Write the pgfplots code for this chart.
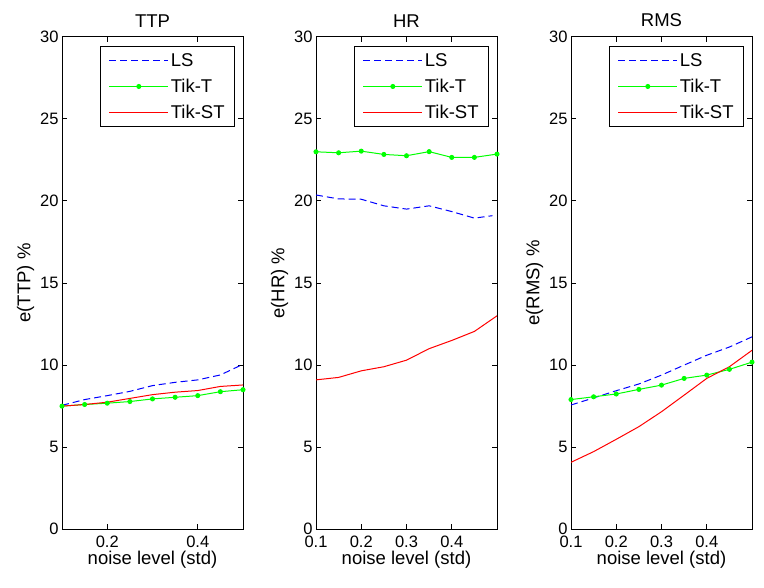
\documentclass[border=0pt]{standalone}
\usepackage{fontspec}
\setmainfont{Liberation Sans}
\usepackage{pgfplots}
\pgfplotsset{compat=1.18}
\definecolor{mblue}{RGB}{0,0,255}
\definecolor{mgreen}{RGB}{0,255,0}
\definecolor{mred}{RGB}{255,0,0}
\newcommand{\tfont}{\fontsize{16.5}{19}\selectfont}
\newcommand{\lfont}{\fontsize{18.5}{21}\selectfont}
\pgfplotsset{
 panel/.style={
  scale only axis, width=181pt, height=492.6pt,
  xmin=0.1, xmax=0.5, ymin=0, ymax=30, ytick={0,5,...,30},
  tick align=inside, tick pos=both, major tick length=5pt,
  axis line style={line width=0.8pt},
  every tick/.style={black, line width=0.8pt},
  font=\lfont,
  tick label style={font=\tfont},
  label style={font=\lfont},
  title style={font=\lfont, yshift=0pt},
  /pgf/number format/assume math mode=true,
  xticklabel style={yshift=-3pt, /pgf/number format/.cd, fixed, precision=1, fixed zerofill},
  xlabel={noise level (std)},
  xlabel style={yshift=3pt},
  ylabel style={yshift=-1pt},
  legend cell align=left,
  legend style={at={(1,1)}, anchor=north east, xshift=-8pt, yshift=-9.5pt,
    draw=black, line width=0.8pt, font=\lfont,
    row sep=7pt, inner xsep=8pt, inner ysep=5pt},
  legend image code/.code={\draw[mark repeat=2,mark phase=2,#1] plot coordinates {(0pt,0pt) (29.5pt,0pt) (59pt,0pt)};},
 },
 ls/.style={draw=mblue, color=mblue, line width=1pt, dash pattern=on 7pt off 4pt, no marks},
 tikt/.style={draw=mgreen, color=mgreen, line width=1pt, mark=*, mark size=2pt, mark options={solid, fill=mgreen}},
 tikst/.style={draw=mred, color=mred, line width=1pt, no marks},
}
\begin{document}
\begin{tikzpicture}
\useasboundingbox (-62pt,-58.7pt) rectangle (702pt,529.3pt);
\begin{axis}[panel, at={(0pt,0pt)}, title={TTP}, ylabel={e(TTP) \%}, xtick={0.2,0.4}]
\addplot[ls] coordinates {(0.1,7.55) (0.15,7.9) (0.2,8.14) (0.25,8.4) (0.3,8.75) (0.35,8.95) (0.4,9.1) (0.45,9.4) (0.5,10.05)};
\addplot[tikt] coordinates {(0.1,7.5) (0.15,7.6) (0.2,7.68) (0.25,7.78) (0.3,7.94) (0.35,8.04) (0.4,8.14) (0.45,8.38) (0.5,8.5)};
\addplot[tikst] coordinates {(0.1,7.5) (0.15,7.6) (0.2,7.74) (0.25,7.97) (0.3,8.2) (0.35,8.35) (0.4,8.45) (0.45,8.7) (0.5,8.79)};
\legend{LS, Tik-T, Tik-ST}
\end{axis}
\begin{axis}[panel, at={(254pt,0pt)}, title={HR}, ylabel={e(HR) \%}, xtick={0.1,0.2,0.3,0.4}]
\addplot[ls] coordinates {(0.1,20.36) (0.15,20.12) (0.2,20.1) (0.25,19.7) (0.3,19.5) (0.35,19.7) (0.4,19.35) (0.45,18.95) (0.49,19.1)};
\addplot[tikt] coordinates {(0.1,22.99) (0.15,22.93) (0.2,23.03) (0.25,22.83) (0.3,22.75) (0.35,23.0) (0.4,22.65) (0.45,22.65) (0.5,22.85)};
\addplot[tikst] coordinates {(0.1,9.1) (0.15,9.25) (0.2,9.65) (0.25,9.9) (0.3,10.3) (0.35,11.0) (0.4,11.5) (0.45,12.05) (0.5,13.0)};
\legend{LS, Tik-T, Tik-ST}
\end{axis}
\begin{axis}[panel, at={(509pt,0pt)}, title={RMS}, ylabel={e(RMS) \%}, xtick={0.1,0.2,0.3,0.4}]
\addplot[ls] coordinates {(0.1,7.57) (0.15,8.0) (0.2,8.44) (0.25,8.85) (0.3,9.39) (0.35,10.0) (0.4,10.6) (0.45,11.1) (0.5,11.72)};
\addplot[tikt] coordinates {(0.1,7.9) (0.15,8.07) (0.2,8.24) (0.25,8.52) (0.3,8.78) (0.35,9.19) (0.4,9.39) (0.45,9.74) (0.5,10.18)};
\addplot[tikst] coordinates {(0.1,4.08) (0.15,4.73) (0.2,5.48) (0.25,6.25) (0.3,7.16) (0.35,8.17) (0.4,9.19) (0.45,9.9) (0.5,10.9)};
\legend{LS, Tik-T, Tik-ST}
\end{axis}
\end{tikzpicture}
\end{document}
